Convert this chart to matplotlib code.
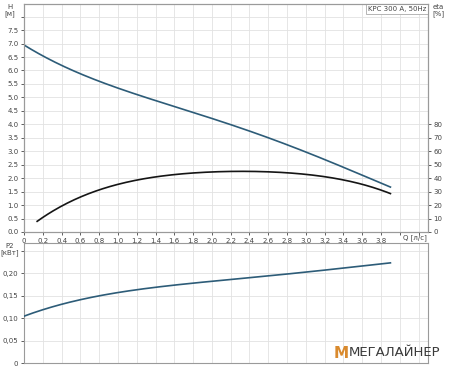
import matplotlib.pyplot as plt
import numpy as np

# Q [l/s] vs head H [m]
q_head = [0.0, 0.3, 0.8, 1.3, 2.0, 2.5, 2.8, 3.2, 3.6, 3.9]
head = [6.92, 6.42, 5.56, 5.0, 4.2, 3.66, 3.25, 2.67, 2.1, 1.68]

# Q vs efficiency eta [%]
q_eta = [0.14, 0.3, 0.5, 0.8, 1.0, 1.3, 1.6, 2.0, 2.4, 2.8, 3.2, 3.6, 3.9]
eta = [7.5, 15.5, 23.0, 32.0, 35.5, 39.0, 42.0, 44.8, 45.7, 44.5, 40.5, 35.0, 28.9]

# Q vs power P2 [kW]
q_p2 = [0.0, 0.3, 0.8, 1.3, 2.1, 2.9, 3.3, 3.9]
p2 = [0.104, 0.125, 0.150, 0.165, 0.184, 0.201, 0.208, 0.223]

x_ticks = np.round(np.arange(0, 3.81, 0.2), 1)
h_ticks = np.round(np.arange(0, 7.51, 0.5), 1)
eta_ticks = list(range(0, 81, 10))
p2_ticks = [0, 0.05, 0.10, 0.15, 0.20]

line_blue = '#2d5c78'
line_black = '#151515'
grid_col = '#e2e2e2'
spine_col = '#9a9a9a'
txt_col = '#444444'
fs = 5

def smooth(xs, ys, n=200):
    xs = np.asarray(xs)
    ys = np.asarray(ys)
    deg = min(len(xs) - 1, 4)
    c = np.polyfit(xs, ys, deg)
    xx = np.linspace(xs[0], xs[-1], n)
    return xx, np.polyval(c, xx)

fig = plt.figure(figsize=(4.5, 3.68), dpi=100)
ax = fig.add_axes([24/450, 1 - 232/368, 404/450, 228/368])
ax2 = ax.twinx()
axp = fig.add_axes([24/450, 5/368, 404/450, 120/368])

# top panel: head + efficiency
xx, yy = smooth(q_head, head)
ax.plot(xx, yy, color=line_blue, lw=1.2, zorder=3)
ax.set_xlim(0, 4.3)
ax.set_ylim(0, 8.47)
ax.set_xticks(list(x_ticks) + [4.0, 4.2])
ax.set_xticklabels([f'{v:.1f}'.replace('.', ',') if v != 0 else '0' for v in x_ticks] + ['', ''])
ax.set_yticks(list(h_ticks) + [8.0])
ax.set_yticklabels([f'{v:.1f}' for v in h_ticks] + [''])
ax.grid(True, color=grid_col, lw=0.6)

xx, yy = smooth(q_eta, eta)
ax2.plot(xx, yy, color=line_black, lw=1.2, zorder=3)
ax2.set_ylim(0, 8.47 * 20)
ax2.set_yticks(eta_ticks)

# bottom panel: power
xx, yy = smooth(q_p2, p2)
axp.plot(xx, yy, color=line_blue, lw=1.2, zorder=3)
axp.set_xlim(0, 4.3)
axp.set_ylim(0, 0.267)
axp.set_xticks(list(x_ticks) + [4.0, 4.2])
axp.set_xticklabels([])
axp.set_yticks(p2_ticks + [0.25])
axp.set_yticklabels(['0', '0,05', '0,10', '0,15', '0,20', ''])
axp.grid(True, color=grid_col, lw=0.6)

for a in (ax, ax2, axp):
    for s in a.spines.values():
        s.set_color(spine_col)
        s.set_linewidth(0.8)
    a.tick_params(labelsize=fs, colors=txt_col, length=2.5, width=0.6, pad=1.5)
ax.tick_params(axis='x', pad=2)
axp.tick_params(axis='x', length=0)

# axis captions
fig.text(10/450, 1 - 4/368, 'H\n[м]', fontsize=fs, color=txt_col, ha='center', va='top', linespacing=1.1)
fig.text(438/450, 1 - 4/368, 'eta\n[%]', fontsize=fs, color=txt_col, ha='center', va='top', linespacing=1.1)
fig.text(10/450, 1 - 243/368, 'P2\n[кВт]', fontsize=fs, color=txt_col, ha='center', va='top', linespacing=1.1)
fig.text(415/450, 1 - 238/368, 'Q [л/с]', fontsize=fs, color=txt_col, ha='center', va='center')

# series label box
ax.text(0.995, 0.993, 'KPC 300 A, 50Hz', transform=ax.transAxes, fontsize=fs,
        color=txt_col, ha='right', va='top',
        bbox=dict(boxstyle='square,pad=0.3', fc='white', ec='#aaaaaa', lw=0.6))

# watermark
fig.text(341/450, 1 - 353/368, 'M', fontsize=11, fontweight='bold', color='#d98a2e', ha='center', va='center')
fig.text(395/450, 1 - 353/368, 'МЕГАЛАЙНЕР', fontsize=9.5, color='#3a3a3a', ha='center', va='center')

fig.savefig('out.png', dpi=100)
